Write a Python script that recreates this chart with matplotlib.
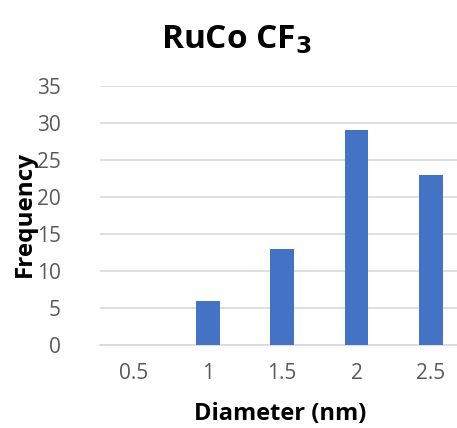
import matplotlib
matplotlib.use('Agg')
from matplotlib import pyplot as plt
import numpy as np

diameters = ['0.5', '1', '1.5', '2', '2.5']
frequency = [0, 6, 13, 29, 23]
yticks = [0, 5, 10, 15, 20, 25, 30, 35]

plt.rcParams['font.family'] = ['Open Sans', 'DejaVu Sans']

fig = plt.figure(figsize=(4.57, 4.28), dpi=100)
ax = fig.add_axes([100/457, 1 - 345/428, 357/457, (345 - 86)/428])

x = np.arange(len(diameters))
ax.bar(x, frequency, width=0.32, color='#4472C4', zorder=3)

ax.set_xlim(-0.45, 4.35)
ax.set_ylim(0, 35)
ax.set_yticks(yticks)
ax.set_xticks(x)
ax.set_xticklabels(diameters)
ax.grid(axis='y', color='#d9d9d9', linewidth=1.2, zorder=0)
for s in ['top', 'right', 'left']:
    ax.spines[s].set_visible(False)
ax.spines['bottom'].set_color('#d9d9d9')
ax.spines['bottom'].set_linewidth(1.2)
ax.tick_params(axis='both', length=0, labelsize=15, colors='#595959', pad=13)
ax.tick_params(axis='y', pad=28)

fig.text(236/457, 1 - 40/428, r'RuCo CF$_\mathbf{3}$', ha='center', va='center',
         fontsize=24, fontweight='bold')
fig.text(280/457, 1 - 414/428, 'Diameter (nm)', ha='center', va='center',
         fontsize=17, fontweight='bold')
fig.text(25/457, 1 - 214/428, 'Frequency', ha='center', va='center',
         fontsize=17.5, fontweight='bold', rotation=90)

fig.savefig('out.png', dpi=100)
